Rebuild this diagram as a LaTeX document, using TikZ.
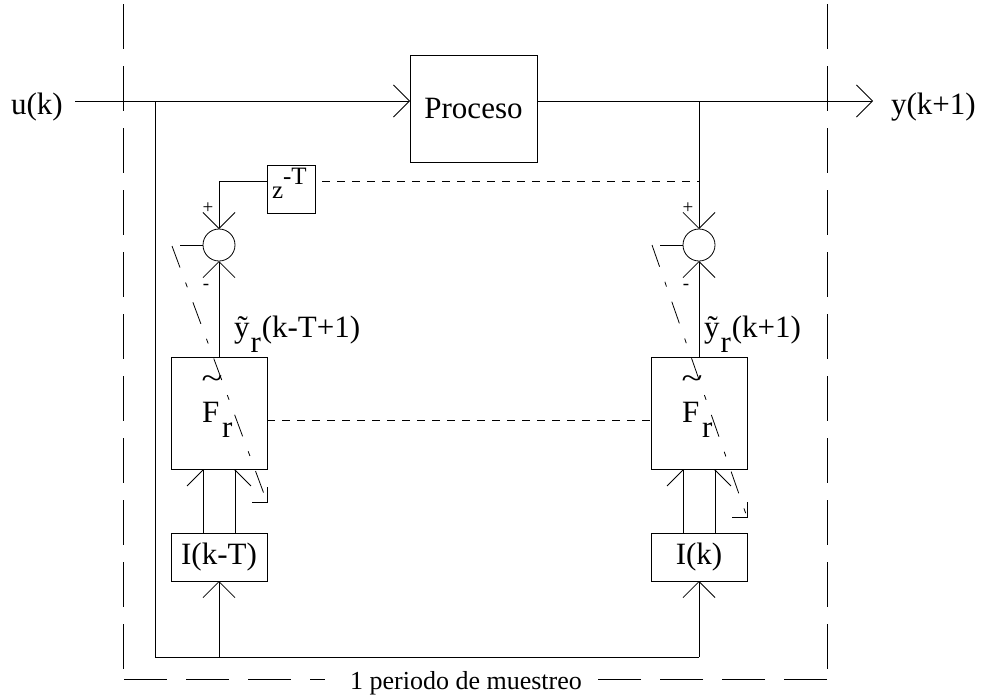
\documentclass[tikz,border=0pt]{standalone}
\usepackage{fontspec}
\setmainfont{Liberation Serif}
\usetikzlibrary{arrows.meta}

\begin{document}
\begin{tikzpicture}[x=1pt,y=-1pt,
  line width=0.8pt,
  every node/.style={inner sep=0pt, outer sep=0pt},
  blk/.style={draw, rectangle, font=\fontsize{31}{36}\selectfont},
  sumnode/.style={draw, circle, minimum size=32pt},
  lbl/.style={font=\fontsize{31}{36}\selectfont},
  sgn/.style={font=\fontsize{19}{22}\selectfont},
  barb/.style={-{Straight Barb[length=16pt,width=32pt]}},
  hbarb/.style={-{Straight Barb[length=16pt,width=32pt,harpoon]}},
  hbarbs/.style={-{Straight Barb[length=16pt,width=32pt,harpoon,swap]}},
  frame/.style={dash pattern=on 45pt off 17pt},
  fine/.style={dash pattern=on 8pt off 7pt},
  chain/.style={dash pattern=on 23pt off 16pt on 5pt off 16pt},
]
\useasboundingbox (0,0) rectangle (983,699);

% blocks
\node[blk, minimum width=127pt, minimum height=107pt] (proc) at (473.5,108.5) {Proceso};
\node[blk, minimum width=48pt, minimum height=48pt] (zd) at (291,189) {};
\node[anchor=base west, font=\fontsize{25}{28}\selectfont] (zt) at (272,198) {z\raisebox{14pt}{-T}};
\node[sumnode] (sl) at (219,245) {};
\node[sumnode] (sr) at (699,245) {};
\node[blk, minimum width=96pt, minimum height=112pt] (fl) at (219,413) {};
\node[blk, minimum width=96pt, minimum height=112pt] (fr) at (699,413) {};
\node[blk, minimum width=96pt, minimum height=48pt] (il) at (219,557) {I(k-T)};
\node[blk, minimum width=96pt, minimum height=48pt] (ir) at (699,557) {I(k)};

% labels
\node[lbl, anchor=base west] (uk) at (11,114) {u(k)};
\node[lbl, anchor=base west] (yk) at (891,114) {y(k+1)};
\node[lbl, anchor=base west] (yl) at (234,337) {ỹ\kern1pt\raisebox{-15pt}{r}\kern1pt(k-T+1)};
\node[lbl, anchor=base west] (yr) at (704,337) {ỹ\kern1pt\raisebox{-15pt}{r}\kern1pt(k+1)};
\node[lbl, anchor=base west] (flF) at (202,422) {F};
\node[lbl, anchor=base west] (flr) at (222,437) {r};
\node[lbl, anchor=base] (flt) at (212,388) {\scalebox{1.25}[1]{\textasciitilde}};
\node[lbl, anchor=base west] (frF) at (682,422) {F};
\node[lbl, anchor=base west] (frr) at (702,437) {r};
\node[lbl, anchor=base] (frt) at (692,388) {\scalebox{1.25}[1]{\textasciitilde}};
\node[sgn] (pl) at (208,208) {+};
\node[sgn] (ml) at (206,287) {-};
\node[sgn] (pr) at (688,208) {+};
\node[sgn] (mr) at (686,287) {-};
\node[font=\fontsize{26}{30}\selectfont] (per) at (466,683) {1 periodo de muestreo};

% points on the signal lines
\coordinate (uin) at (75,101);
\coordinate (ul) at (155,101);
\coordinate (bl) at (155,657);
\coordinate (bm) at (219,657);
\coordinate (br) at (699,657);
\coordinate (yb) at (699,101);
\coordinate (yout) at (873,101);
\coordinate (zc) at (219,181);
\coordinate (yd) at (699,181);
\coordinate (sls) at (180,245);
\coordinate (srs) at (660,245);

% main signal path
\draw[barb] (uin) -- (uin -| proc.west);
\draw[barb] (proc.east |- yout) -- (yout);
\draw (ul) -- (bl) -- (br);
\draw[barb] (bm) -- (il.south);
\draw[barb] (br) -- (ir.south);
\draw[barb] (yb) -- (sr.north);
\draw (zc -| zd.west) -- (zc);
\draw[barb] (zc) -- (sl.north);
\draw[fine, dash phase=8pt] (zd.east |- yd) -- (yd);
\draw[fine] ([yshift=-7pt]fl.east) -- ([yshift=-7pt]fr.west);
\draw[barb] (fl.north) -- (sl.south);
\draw[barb] (fr.north) -- (sr.south);
\draw (sls) -- (sl.west);
\draw (srs) -- (sr.west);
\draw[hbarb] ([xshift=-16pt]il.north) -- ([xshift=-16pt]fl.south);
\draw[hbarbs] ([xshift=16pt]il.north) -- ([xshift=16pt]fl.south);
\draw[hbarb] ([xshift=-16pt]ir.north) -- ([xshift=-16pt]fr.south);
\draw[hbarbs] ([xshift=16pt]ir.north) -- ([xshift=16pt]fr.south);

% dash-dot guide lines with corner ends
\coordinate (cl0) at (172,246);
\coordinate (cl1) at (267,502);
\coordinate (cr0) at (652,245);
\coordinate (cr1) at (747,517);
\draw[chain] (cl0) -- (cl1);
\draw (cl1) ++(-15,0) -- (cl1) -- ++(0,-15);
\draw[chain] (cr0) -- (cr1);
\draw (cr1) ++(-15,0) -- (cr1) -- ++(0,-15);

% sampling period frame
\draw[frame] (123,4) -- (123,669);
\draw[frame] (827,4) -- (827,669);
\draw[dash pattern=on 43pt off 19pt] (124,679) -- (325,679);
\draw[dash pattern=on 43pt off 19pt] (827,679) -- (593,679);
\end{tikzpicture}
\end{document}
